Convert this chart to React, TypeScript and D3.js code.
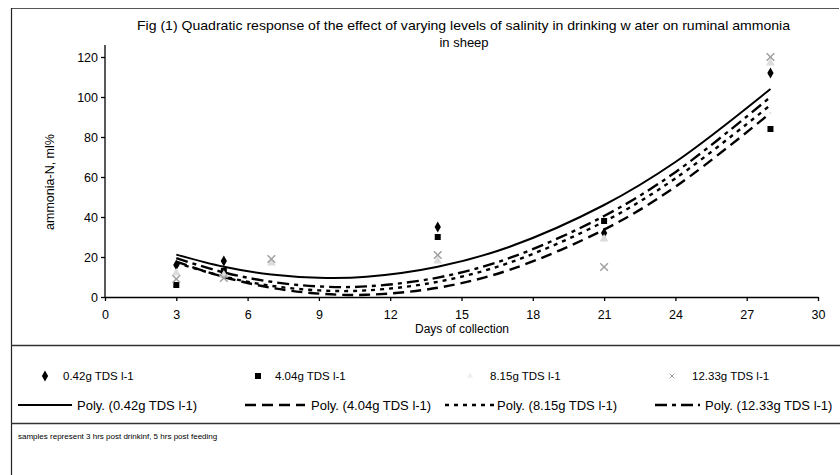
import { useRef, useEffect } from 'react';
import * as d3 from 'd3';

// sampling days and measured ruminal ammonia (ml%)
const days = [3, 5, 7, 14, 21, 28];
const tds042 = [16, 18, null, 35, 32, 112];
const tds404 = [6, 13, null, 30, 38, 84];
const tds815 = [12, 11, 17, 18, 29, 117];
const tds1233 = [9, 9.5, 19, 21, 15, 120];

// quadratic trend lines
const trendDays = [3, 5, 7, 9, 11, 14, 17, 21, 24, 28];
const trend042 = [21.2, 15.1, 11.2, 9.6, 10.1, 15.1, 25, 46, 67.5, 104];
const trend404 = [17.7, 10, 4.6, 1.7, 1.1, 4.6, 13.5, 33.7, 55.1, 92];
const trend815 = [17.1, 10.2, 5.6, 3.3, 3.3, 7.6, 17.1, 37.7, 59.3, 96];
const trend1233 = [19.4, 12.3, 7.6, 5.3, 5.3, 9.7, 19.4, 40.5, 62.4, 100];

const seriesNames = ['0.42g TDS l-1', '4.04g TDS l-1', '8.15g TDS l-1', '12.33g TDS l-1'];
const xTicks = [0, 3, 6, 9, 12, 15, 18, 21, 24, 27, 30];
const yTicks = [0, 20, 40, 60, 80, 100, 120];

const font = '"Liberation Sans", Arial, sans-serif';

const series = [
  { name: seriesNames[0], values: tds042, symbol: d3.symbolDiamond, fill: '#000', stroke: 'none', size: 34 },
  { name: seriesNames[1], values: tds404, symbol: d3.symbolSquare, fill: '#000', stroke: 'none', size: 36 },
  { name: seriesNames[2], values: tds815, symbol: d3.symbolTriangle, fill: '#dcdcdc', stroke: 'none', size: 34 },
  { name: seriesNames[3], values: tds1233, symbol: d3.symbolX, fill: 'none', stroke: '#a0a0a0', size: 40 },
];

const trends = [
  { name: 'Poly. (' + seriesNames[0] + ')', values: trend042, dash: null, width: 2 },
  { name: 'Poly. (' + seriesNames[1] + ')', values: trend404, dash: '11,6', width: 2.4 },
  { name: 'Poly. (' + seriesNames[2] + ')', values: trend815, dash: '4,5', width: 2.4 },
  { name: 'Poly. (' + seriesNames[3] + ')', values: trend1233, dash: '12,5,4,5', width: 2.4 },
];

export default function App() {
  const xAxisRef = useRef<SVGGElement>(null);
  const yAxisRef = useRef<SVGGElement>(null);

  const x = d3.scaleLinear().domain([0, 30]).range([105, 818]);
  const y = d3.scaleLinear().domain([0, 120]).range([297, 57]);

  useEffect(() => {
    const xa = d3.select(xAxisRef.current!);
    xa.selectAll('*').remove();
    xa.call(d3.axisBottom(x).tickValues(xTicks).tickSize(4).tickSizeOuter(0).tickPadding(9));
    const ya = d3.select(yAxisRef.current!);
    ya.selectAll('*').remove();
    ya.call(d3.axisLeft(y).tickValues(yTicks).tickSize(4).tickSizeOuter(0).tickPadding(3));
    ya.select('.domain').attr('d', `M0,${y(0)}V${y(126)}`);
    [xa, ya].forEach(g => {
      g.selectAll('path, line').attr('stroke', '#000').attr('stroke-width', 1.3);
      g.selectAll('text').attr('fill', '#000').style('font-family', font).style('font-size', '12.5px');
    });
  }, []);

  const line = d3.line<number>()
    .x((_, i) => x(trendDays[i]))
    .y(d => y(d))
    .curve(d3.curveCatmullRom);

  const legendX1 = [45, 258, 470, 672];
  const legendT1 = [63, 275, 490, 692];
  const legendL2 = [[18, 72], [245, 305], [445, 494], [655, 700]];
  const legendT2 = [77, 311, 497, 705];

  return (
    <svg width={840} height={475} style={{ position: 'absolute', left: 0, top: 0, background: '#fff' }}>
      {/* frame */}
      <line x1={11} y1={8.5} x2={839} y2={8.5} stroke="#555" strokeWidth={1} />
      <line x1={11.5} y1={8} x2={11.5} y2={475} stroke="#222" strokeWidth={1.2} />
      <line x1={11} y1={345.5} x2={840} y2={345.5} stroke="#333" strokeWidth={1.3} />
      <line x1={11} y1={423.5} x2={840} y2={423.5} stroke="#333" strokeWidth={1.3} />

      <text x={137} y={30} fontFamily={font} fontSize={13} textLength={653} lengthAdjust="spacingAndGlyphs">
        Fig (1) Quadratic response of the effect of varying levels of salinity in drinking w ater on ruminal ammonia
      </text>
      <text x={464} y={47} textAnchor="middle" fontFamily={font} fontSize={13}>in sheep</text>

      <g ref={yAxisRef} transform="translate(105,0)" />
      <g ref={xAxisRef} transform="translate(0,297)" />

      <text transform="translate(54,182) rotate(-90)" textAnchor="middle" fontFamily={font} fontSize={12.5}>
        ammonia-N, ml%
      </text>
      <text x={462} y={333} textAnchor="middle" fontFamily={font} fontSize={12}>Days of collection</text>

      {trends.map(t => (
        <path key={t.name} d={line(t.values) || ''} fill="none" stroke="#000"
          strokeWidth={t.width} strokeDasharray={t.dash || undefined} />
      ))}

      {series.map(s => (
        <g key={s.name}>
          {s.values.map((v, i) => v == null ? null : (
            <path key={i} transform={`translate(${x(days[i])},${y(v)})`}
              d={d3.symbol().type(s.symbol).size(s.size)() || ''}
              fill={s.fill} stroke={s.stroke} strokeWidth={1.5} />
          ))}
        </g>
      ))}

      {/* legend */}
      {series.map((s, i) => (
        <g key={'l1' + i}>
          <path transform={`translate(${legendX1[i]},${376})`}
            d={d3.symbol().type(s.symbol).size(i > 1 ? 16 : s.size)() || ''}
            fill={i === 2 ? '#eee' : s.fill} stroke={s.stroke} strokeWidth={1} />
          <text x={legendT1[i]} y={380} fontFamily={font} fontSize={11.5}>{s.name}</text>
        </g>
      ))}
      {trends.map((t, i) => (
        <g key={'l2' + i}>
          <line x1={legendL2[i][0]} x2={legendL2[i][1]} y1={405} y2={405} stroke="#000"
            strokeWidth={t.width} strokeDasharray={t.dash || undefined} />
          <text x={legendT2[i]} y={410} fontFamily={font} fontSize={13}>{t.name}</text>
        </g>
      ))}

      <text x={18} y={439} fontFamily={font} fontSize={8}>
        samples represent 3 hrs post drinkinf, 5 hrs post feeding
      </text>
    </svg>
  );
}
